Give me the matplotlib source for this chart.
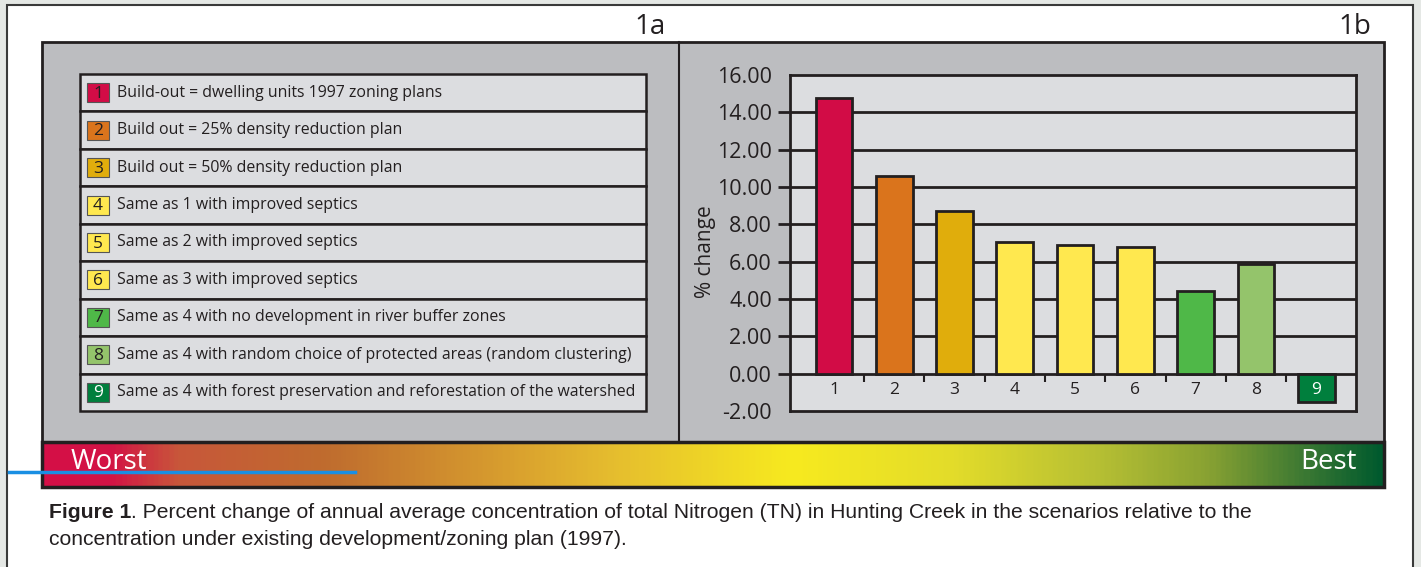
import numpy as np
import matplotlib.pyplot as plt
from matplotlib.patches import Rectangle
from matplotlib.colors import LinearSegmentedColormap

plt.rcParams['font.family'] = ['Open Sans', 'DejaVu Sans']

W, H = 1421, 567
DARK = '#231f20'

scenarios = ['1', '2', '3', '4', '5', '6', '7', '8', '9']
values = [14.75, 10.6, 8.72, 7.05, 6.87, 6.81, 4.45, 5.88, -1.5]
bar_colors = ['#d20c46', '#da741c', '#e0ad0c', '#ffe84f', '#ffe84f',
              '#ffe84f', '#4fb848', '#94c46b', '#007f3d']
number_colors = [DARK] * 8 + ['white']
descriptions = [
    'Build-out = dwelling units 1997 zoning plans',
    'Build out = 25% density reduction plan',
    'Build out = 50% density reduction plan',
    'Same as 1 with improved septics',
    'Same as 2 with improved septics',
    'Same as 3 with improved septics',
    'Same as 4 with no development in river buffer zones',
    'Same as 4 with random choice of protected areas (random clustering)',
    'Same as 4 with forest preservation and reforestation of the watershed',
]
yticks = np.arange(-2, 17, 2)
grad_stops = [0.0, 0.05, 0.10, 0.21, 0.35, 0.43, 0.56, 0.68, 0.79, 0.87, 0.94, 1.0]
grad_colors = ['#d50f47', '#d31445', '#c8573a', '#bf6c2e', '#d9a02f', '#e6bf2e',
               '#f7ea1f', '#e3dc2a', '#b6bf34', '#89a232', '#3f7a33', '#005a2e']

fig = plt.figure(figsize=(W / 100, H / 100), dpi=100, facecolor='#e5e8e5')

# background drawing layer in pixel coordinates
bg = fig.add_axes([0, 0, 1, 1])
bg.axis('off')


def box(x0, y0, x1, y1, **kw):
    bg.add_patch(Rectangle((x0, y0), x1 - x0, y1 - y0, **kw))


box(7, 5, 1413, 575, facecolor='white', edgecolor='#3a3a3a', lw=1.5)
box(42, 42, 1384, 442, facecolor='#bcbdc0', edgecolor=DARK, lw=2)
bg.plot([679, 679], [42, 442], color=DARK, lw=1.5)

bg.text(650, 27, '1a', fontsize=20, ha='center', va='center', color=DARK)
bg.text(1355, 27, '1b', fontsize=20, ha='center', va='center', color=DARK)

# legend table
row_h = (411 - 74) / len(descriptions)
for i, (num, desc) in enumerate(zip(scenarios, descriptions)):
    y0 = 74 + i * row_h
    yc = y0 + row_h / 2
    box(80, y0, 646, y0 + row_h, facecolor='#dcdde0', edgecolor=DARK, lw=1.8)
    box(87, yc - 9.5, 109, yc + 9.5, facecolor=bar_colors[i], edgecolor='#555555', lw=0.8)
    bg.text(98, yc + 1, num, fontsize=12.5, ha='center', va='center', color=number_colors[i])
    bg.text(117, yc, desc, fontsize=11.4, ha='left', va='center', color=DARK)

# worst-best gradient
cmap = LinearSegmentedColormap.from_list('wb', list(zip(grad_stops, grad_colors)))
bg.imshow(np.linspace(0, 1, 600)[None, :], cmap=cmap, aspect='auto',
          extent=(42, 1384, 487, 442), zorder=2)
box(42, 442, 1384, 487, facecolor='none', edgecolor=DARK, lw=2.5, zorder=3)
bg.text(71, 462, 'Worst', fontsize=20, color='white', ha='left', va='center', zorder=4)
bg.text(1357, 462, 'Best', fontsize=20, color='white', ha='right', va='center', zorder=4)
bg.plot([9, 355], [471.5, 471.5], color='#1a8fe3', lw=2.5, zorder=5)

# caption
cap = dict(family='Liberation Sans', fontsize=15.2, color=DARK)
t1 = bg.text(49, 518, 'Figure 1', fontweight='bold', va='baseline', **cap)
bg.annotate('. Percent change of annual average concentration of total Nitrogen (TN) '
            'in Hunting Creek in the scenarios relative to the',
            xy=(1, 0), xycoords=t1, va='bottom', ha='left', **cap)
bg.text(49, 545, 'concentration under existing development/zoning plan (1997).',
        va='baseline', **cap)

bg.text(705, 252, '% change', fontsize=15, rotation=90, ha='center', va='center', color=DARK)

bg.set_xlim(0, W)
bg.set_ylim(H, 0)

# bar chart
ax = fig.add_axes([790 / W, (H - 411) / H, (1356 - 790) / W, (411 - 75) / H])
ax.set_facecolor('#dcdde0')
x = np.arange(1, len(values) + 1)
ax.bar(x, values, width=0.61, color=bar_colors, edgecolor=DARK, linewidth=2, zorder=3)
for y in yticks[1:-1]:
    ax.axhline(y, color=DARK, lw=2, zorder=1)
ax.vlines(np.arange(1.5, 9, 1), -0.45, 0, color=DARK, lw=1.5, zorder=2)
for xi, s, c in zip(x, scenarios, number_colors):
    ax.text(xi, -0.88, s, ha='center', va='center', fontsize=12.5, color=c, zorder=4)

ax.set_xlim(0.27, 9.66)
ax.set_ylim(-2, 16)
ax.set_xticks([])
ax.set_yticks(yticks)
ax.set_yticklabels([f'{v:.2f}' for v in yticks])
ax.tick_params(axis='y', length=9, width=2, color=DARK, labelsize=15.5, pad=4, labelcolor=DARK)
ticks = ax.yaxis.get_major_ticks()
ticks[0].tick1line.set_visible(False)
ticks[-1].tick1line.set_visible(False)
for sp in ax.spines.values():
    sp.set_color(DARK)
    sp.set_linewidth(2)

fig.savefig('out.png', dpi=100, facecolor=fig.get_facecolor())
